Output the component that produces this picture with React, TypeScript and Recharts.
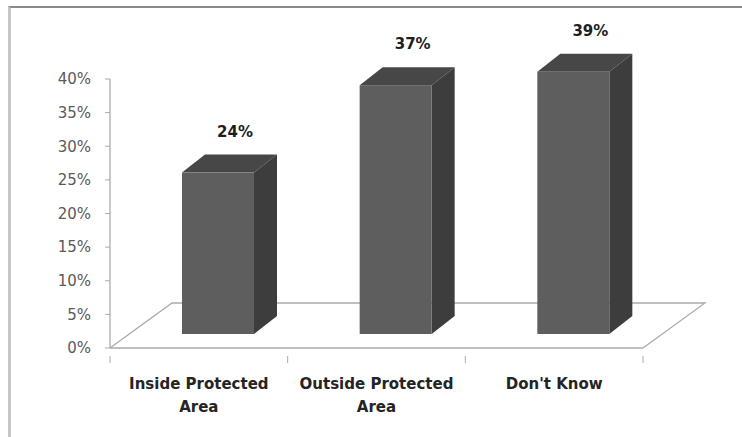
import React from 'react';
import { BarChart, Bar, XAxis, YAxis, ReferenceArea, LabelList } from 'recharts';

const categories = ['Inside Protected Area', 'Outside Protected Area', "Don't Know"];
const shares = [24, 37, 39];
const yTicks = [0, 5, 10, 15, 20, 25, 30, 35, 40];

const data = categories.map((name, i) => ({ name, value: shares[i] }));

// fake 3D look
const DEPTH_X = 23;
const DEPTH_Y = 18;
const SHIFT_X = 19;
const LIFT = 14;
const FLOOR_X = 62;
const FLOOR_Y = 45;

const FRONT = '#5e5e5e';
const TOP = '#474747';
const SIDE = '#3d3d3d';
const GRID = '#ababab';

const Bar3D = (props: any) => {
    const { x, y, width, height } = props;
    const fx = x + SHIFT_X;
    const fy = y - LIFT;
    return (
        <g>
            <polygon
                points={`${fx},${fy} ${fx + DEPTH_X},${fy - DEPTH_Y} ${fx + width + DEPTH_X},${fy - DEPTH_Y} ${fx + width},${fy}`}
                fill={TOP}
            />
            <polygon
                points={`${fx + width},${fy} ${fx + width + DEPTH_X},${fy - DEPTH_Y} ${fx + width + DEPTH_X},${fy + height - DEPTH_Y} ${fx + width},${fy + height}`}
                fill={SIDE}
            />
            <rect x={fx} y={fy} width={width} height={height} fill={FRONT} />
        </g>
    );
};

const Floor = (props: any) => {
    const { x, y, width, height } = props;
    const by = y + height;
    return (
        <g fill="none" stroke={GRID} strokeWidth={1.3}>
            <polyline
                points={`${x},${by} ${x + FLOOR_X},${by - FLOOR_Y} ${x + width + FLOOR_X},${by - FLOOR_Y} ${x + width},${by}`}
            />
        </g>
    );
};

const wrap = (label: string) => {
    if (label.length <= 12) return [label];
    const cut = label.lastIndexOf(' ');
    return [label.slice(0, cut), label.slice(cut + 1)];
};

const CategoryTick = (props: any) => {
    const { x, y, payload, index, width } = props;
    const half = payload.offset || width / categories.length / 2;
    const lines = wrap(payload.value);
    return (
        <g>
            <line x1={x - half} y1={y} x2={x - half} y2={y + 7} stroke={GRID} />
            {index === categories.length - 1 && (
                <line x1={x + half} y1={y} x2={x + half} y2={y + 7} stroke={GRID} />
            )}
            <text
                x={x}
                y={y + 33}
                textAnchor="middle"
                fontFamily="DejaVu Sans"
                fontWeight="bold"
                fontSize={15}
                fill="#242424"
            >
                {lines.map((line, i) => (
                    <tspan key={i} x={x} dy={i === 0 ? 0 : 23}>
                        {line}
                    </tspan>
                ))}
            </text>
        </g>
    );
};

const ValueLabel = (props: any) => {
    const { x, y, width, value } = props;
    return (
        <text
            x={x + width / 2 + SHIFT_X + 17}
            y={y - LIFT - 36}
            textAnchor="middle"
            fontFamily="DejaVu Sans"
            fontWeight="bold"
            fontSize={15}
            fill="#1e1e1e"
        >
            {`${value}%`}
        </text>
    );
};

const App = () => {
    return (
        <div style={{ position: 'absolute', left: 0, top: 0, width: 742, height: 437, overflow: 'hidden', background: '#fff' }}>
            <div
                style={{
                    position: 'absolute',
                    left: 8,
                    top: 6,
                    width: 760,
                    height: 460,
                    borderTop: '2px solid #8a8a8a',
                    borderLeft: '3px solid #c6c6c6',
                    boxSizing: 'border-box',
                }}
            />
            <BarChart
                width={742}
                height={437}
                data={data}
                margin={{ top: 79, right: 99, bottom: 0, left: 50 }}
                style={{ position: 'absolute', left: 0, top: 0 }}
            >
                <ReferenceArea y1={0} y2={40} shape={<Floor />} />
                <XAxis
                    dataKey="name"
                    axisLine={{ stroke: GRID, strokeWidth: 1.3 }}
                    tickLine={false}
                    tick={<CategoryTick />}
                    interval={0}
                    height={89}
                />
                <YAxis
                    domain={[0, 40]}
                    ticks={yTicks}
                    interval={0}
                    width={60}
                    tickFormatter={(v: number) => `${v}%`}
                    axisLine={{ stroke: GRID, strokeWidth: 1.3 }}
                    tickLine={{ stroke: GRID }}
                    tickSize={5}
                    tickMargin={14}
                    tick={{ fontFamily: 'DejaVu Sans', fontSize: 15, fill: '#5a5a5a' }}
                />
                <Bar dataKey="value" barSize={72} shape={<Bar3D />} isAnimationActive={false}>
                    <LabelList dataKey="value" content={<ValueLabel />} />
                </Bar>
            </BarChart>
        </div>
    );
};

export default App;
